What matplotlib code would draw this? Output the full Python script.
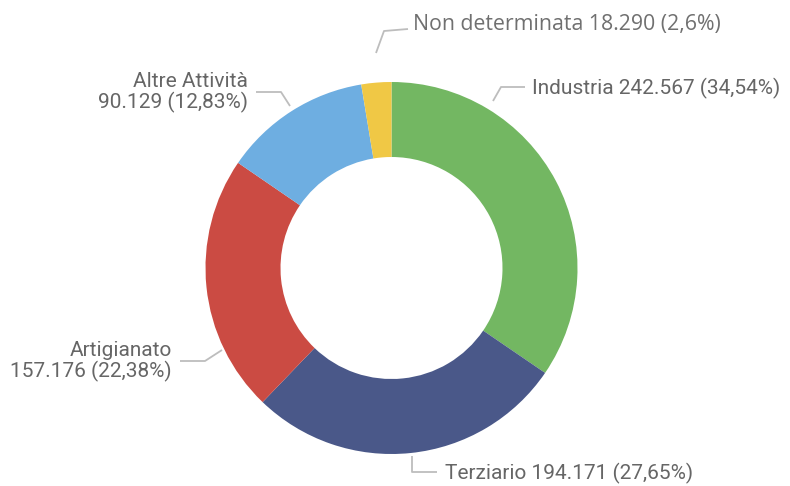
import matplotlib
matplotlib.use("Agg")
import matplotlib.pyplot as plt

categories = ["Industria", "Terziario", "Artigianato", "Altre Attività", "Non determinata"]
values = [242567, 194171, 157176, 90129, 18290]
value_labels = ["242.567", "194.171", "157.176", "90.129", "18.290"]
pct_labels = ["34,54%", "27,65%", "22,38%", "12,83%", "2,6%"]
colors = ["#73B762", "#4A5889", "#CB4B43", "#6EAEE1", "#F0C845"]

W, H = 790, 486
fig = plt.figure(figsize=(W / 100, H / 100), dpi=100)
ax = fig.add_axes([0, 0, 1, 1])

cx, cy, R, r = 391.5, 268, 186, 111
# y axis inverted: counterclock=True in data renders clockwise on screen
ax.pie(values, colors=colors, startangle=-90, counterclock=True,
       center=(cx, cy), radius=R, wedgeprops=dict(width=R - r, linewidth=0),
       frame=True)
ax.set_xlim(0, W)
ax.set_ylim(H, 0)
ax.set_aspect("equal")
ax.axis("off")

lc = "#BDBDBD"
tc = "#666666"
fam = "Roboto"
fs = 15

def leader(pts):
    xs, ys = zip(*pts)
    ax.plot(xs, ys, color=lc, lw=1.3, solid_capstyle="butt")

# Industria
leader([(493, 101), (501, 87), (525, 87)])
ax.text(532, 88, f"{categories[0]} {value_labels[0]} ({pct_labels[0]})",
        family=fam, fontsize=fs, color=tc, va="center", ha="left")
# Terziario
leader([(412, 456), (412, 472), (437, 472)])
ax.text(445, 473, f"{categories[1]} {value_labels[1]} ({pct_labels[1]})",
        family=fam, fontsize=fs, color=tc, va="center", ha="left")
# Artigianato
leader([(180, 361), (205, 361), (222, 350)])
ax.text(172, 350, categories[2], family=fam, fontsize=fs, color=tc,
        va="center", ha="right")
ax.text(172, 371, f"{value_labels[2]} ({pct_labels[2]})", family=fam,
        fontsize=fs, color=tc, va="center", ha="right")
# Altre Attività
leader([(256, 92), (281, 92), (290, 106)])
ax.text(248, 81, categories[3], family=fam, fontsize=fs, color=tc,
        va="center", ha="right")
ax.text(248, 102, f"{value_labels[3]} ({pct_labels[3]})", family=fam,
        fontsize=fs, color=tc, va="center", ha="right")
# Non determinata
leader([(376, 53), (384, 31), (408, 29)])
ax.text(413, 24, f"{categories[4]} {value_labels[4]} ({pct_labels[4]})",
        family="Open Sans", fontsize=15.3, color="#707070", va="center", ha="left")

fig.savefig("out.png", dpi=100)
